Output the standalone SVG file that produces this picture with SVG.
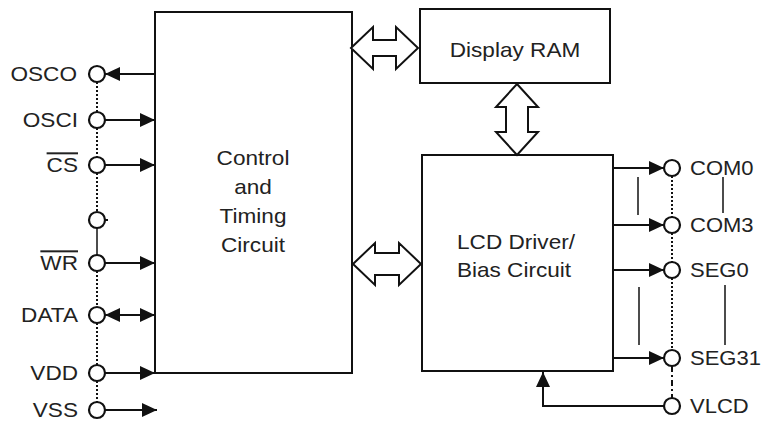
<svg xmlns="http://www.w3.org/2000/svg" width="764" height="421" viewBox="0 0 764 421">
<style>
  .blk{fill:#fff;stroke:#111;stroke-width:2}
  .ln{stroke:#111;stroke-width:2;fill:none}
  .thin{stroke:#111;stroke-width:1.5;fill:none}
  .dot{stroke:#111;stroke-width:2;fill:none;stroke-dasharray:2 2}
  .pin{fill:#fff;stroke:#111;stroke-width:2.2}
  .dbl{fill:#fff;stroke:#111;stroke-width:2;stroke-linejoin:miter}
  text{font-family:"Liberation Sans",Arial,sans-serif;font-size:20px;fill:#222}
  .lbl{text-anchor:end}
  .ctr{text-anchor:middle}
</style>
<defs>
  <marker id="ah" markerUnits="userSpaceOnUse" markerWidth="16" markerHeight="14" refX="15" refY="7" orient="auto-start-reverse">
    <path d="M0,0 L15,7 L0,14 Z" fill="#111"/>
  </marker>
</defs>

<g id="control">
  <rect class="blk" x="155" y="12" width="197" height="361"/>
  <text class="ctr" transform="translate(253,165) scale(1.13,1)">Control</text>
  <text class="ctr" transform="translate(253,194) scale(1.13,1)">and</text>
  <text class="ctr" transform="translate(253,223) scale(1.13,1)">Timing</text>
  <text class="ctr" transform="translate(253,252) scale(1.13,1)">Circuit</text>
</g>
<g id="display-ram">
  <rect class="blk" x="420" y="9" width="190" height="74"/>
  <text class="ctr" transform="translate(515,57) scale(1.13,1)">Display RAM</text>
</g>
<g id="lcd-driver">
  <rect class="blk" x="422" y="155" width="191" height="216"/>
  <text class="ctr" transform="translate(516,249) scale(1.13,1)">LCD Driver/</text>
  <text class="ctr" transform="translate(514,277) scale(1.13,1)">Bias Circuit</text>
</g>

<g id="connectors">
  <!-- double arrows -->
  <polygon class="dbl" points="351,48 373,27 373,40 396,40 396,27 418,48 396,69 396,56 373,56 373,69"/>
  <polygon class="dbl" points="517,84 538,107 528,107 528,132 538,132 517,155 496,132 506,132 506,107 496,107"/>
  <polygon class="dbl" points="353,264 375,243 375,253 399,253 399,243 421,264 399,285 399,275 375,275 375,285"/>

  <!-- left pin bus lines -->
  <line class="dot" x1="97" y1="82" x2="97" y2="112"/>
  <line class="dot" x1="97" y1="128" x2="97" y2="157"/>
  <line class="dot" x1="97" y1="173" x2="97" y2="212"/>
  <line class="thin" x1="97" y1="228" x2="97" y2="255"/>
  <line class="dot" x1="97" y1="271" x2="97" y2="307"/>
  <line class="dot" x1="97" y1="323" x2="97" y2="365"/>
  <line class="dot" x1="97" y1="381" x2="97" y2="402"/>

  <!-- left pin arrows -->
  <line class="ln" x1="155" y1="74" x2="105" y2="74" marker-end="url(#ah)"/>
  <line class="ln" x1="105" y1="120" x2="155" y2="120" marker-end="url(#ah)"/>
  <line class="ln" x1="105" y1="165" x2="155" y2="165" marker-end="url(#ah)"/>
  <line class="ln" x1="105" y1="220" x2="108" y2="220"/>
  <line class="ln" x1="105" y1="263" x2="155" y2="263" marker-end="url(#ah)"/>
  <line class="ln" x1="105" y1="315" x2="155" y2="315" marker-start="url(#ah)" marker-end="url(#ah)"/>
  <line class="ln" x1="105" y1="373" x2="155" y2="373" marker-end="url(#ah)"/>
  <line class="ln" x1="105" y1="410" x2="157" y2="410" marker-end="url(#ah)"/>

  <!-- right outputs -->
  <line class="ln" x1="613" y1="168" x2="664" y2="168" marker-end="url(#ah)"/>
  <line class="ln" x1="613" y1="225" x2="664" y2="225" marker-end="url(#ah)"/>
  <line class="ln" x1="613" y1="270" x2="664" y2="270" marker-end="url(#ah)"/>
  <line class="ln" x1="613" y1="358" x2="664" y2="358" marker-end="url(#ah)"/>
  <line class="thin" x1="638" y1="177" x2="638" y2="215"/>
  <line class="thin" x1="639" y1="287" x2="639" y2="345"/>

  <!-- right pin bus lines -->
  <line class="dot" x1="672" y1="176" x2="672" y2="217"/>
  <line class="dot" x1="672" y1="233" x2="672" y2="262"/>
  <line class="dot" x1="672" y1="278" x2="672" y2="350"/>
  <line class="ln" x1="672" y1="366" x2="672" y2="398" stroke-dasharray="6 3 2 3"/>

  <!-- label range marks -->
  <line class="thin" x1="723" y1="177" x2="723" y2="213"/>
  <line class="thin" x1="725" y1="285" x2="725" y2="345"/>

  <!-- VLCD feed -->
  <polyline class="ln" points="664,406 543,406 543,372" marker-end="url(#ah)"/>
</g>

<g id="pins-left">
  <circle class="pin" cx="97" cy="74" r="8"/><text class="lbl" transform="translate(77,81) scale(1.13,1)">OSCO</text>
  <circle class="pin" cx="97" cy="120" r="8"/><text class="lbl" transform="translate(78,127) scale(1.13,1)">OSCI</text>
  <circle class="pin" cx="97" cy="165" r="8"/><text class="lbl" transform="translate(78,172) scale(1.13,1)"><tspan text-decoration="overline">CS</tspan></text>
  <circle class="pin" cx="97" cy="220" r="8"/>
  <circle class="pin" cx="97" cy="263" r="8"/><text class="lbl" transform="translate(78,270) scale(1.13,1)"><tspan text-decoration="overline">WR</tspan></text>
  <circle class="pin" cx="97" cy="315" r="8"/><text class="lbl" transform="translate(78,322) scale(1.13,1)">DATA</text>
  <circle class="pin" cx="97" cy="373" r="8"/><text class="lbl" transform="translate(78,380) scale(1.13,1)">VDD</text>
  <circle class="pin" cx="97" cy="410" r="8"/><text class="lbl" transform="translate(78,417) scale(1.13,1)">VSS</text>
</g>
<g id="pins-right">
  <circle class="pin" cx="672" cy="168" r="8"/><text transform="translate(690,175) scale(1.1,1)">COM0</text>
  <circle class="pin" cx="672" cy="225" r="8"/><text transform="translate(690,232) scale(1.1,1)">COM3</text>
  <circle class="pin" cx="672" cy="270" r="8"/><text transform="translate(690,277) scale(1.1,1)">SEG0</text>
  <circle class="pin" cx="672" cy="358" r="8"/><text transform="translate(690,365) scale(1.1,1)">SEG31</text>
  <circle class="pin" cx="672" cy="406" r="8"/><text transform="translate(690,413) scale(1.1,1)">VLCD</text>
</g>
</svg>
